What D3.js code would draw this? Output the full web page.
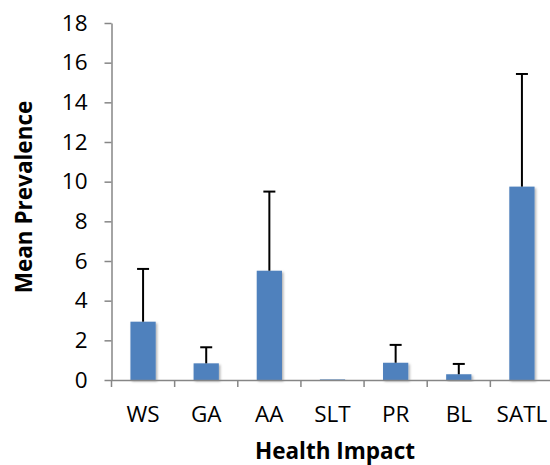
<!DOCTYPE html>
<html><head><meta charset="utf-8">
<script src="https://cdn.jsdelivr.net/npm/d3@7"></script>
<style>body{margin:0;background:#fff}svg{display:block}</style>
</head><body>
<script>
const categories = ["WS","GA","AA","SLT","PR","BL","SATL"];
const means = [2.94, 0.84, 5.51, 0.03, 0.87, 0.29, 9.75];
const errors = [2.66, 0.81, 3.99, 0, 0.90, 0.52, 5.68];
const yTicks = [0,2,4,6,8,10,12,14,16,18];
const xTitle = "Health Impact";
const yTitle = "Mean Prevalence";

const W = 550, H = 465;
const svg = d3.select("body").append("svg").attr("width", W).attr("height", H);
const font = "'Open Sans', sans-serif";

const x = d3.scaleBand().domain(categories).range([111.5, 553.5]).paddingInner(0.6).paddingOuter(0.3);
const xb = d3.scaleBand().domain(categories).range([111.5, 553.5]);
const y = d3.scaleLinear().domain([0,18]).range([380, 23]);

// shadow filter
const defs = svg.append("defs");
const f = defs.append("filter").attr("id","sh").attr("x","-20%").attr("y","-20%").attr("width","150%").attr("height","150%");
f.append("feDropShadow").attr("dx",1.5).attr("dy",1.5).attr("stdDeviation",1.2).attr("flood-color","#000").attr("flood-opacity",0.3);

// bars
svg.append("g").selectAll("rect").data(categories).join("rect")
  .attr("x", d => x(d)).attr("width", x.bandwidth())
  .attr("y", (d,i) => y(means[i])).attr("height", (d,i) => y(0) - y(means[i]))
  .attr("fill", "#4F81BD").attr("filter","url(#sh)");

// error bars
const eg = svg.append("g").attr("stroke","#000").attr("stroke-width",2);
categories.forEach((c,i) => {
  if (errors[i] <= 0) return;
  const cx = x(c) + x.bandwidth()/2;
  eg.append("line").attr("x1",cx).attr("x2",cx).attr("y1",y(means[i])).attr("y2",y(means[i]+errors[i]));
  eg.append("line").attr("x1",cx-6).attr("x2",cx+6).attr("y1",y(means[i]+errors[i])).attr("y2",y(means[i]+errors[i]));
});

// y axis
const ya = svg.append("g").attr("transform","translate(111.5,0)")
  .call(d3.axisLeft(y).tickValues(yTicks).tickSize(7).tickPadding(17).tickSizeOuter(0));
ya.select(".domain").attr("stroke","#868686").attr("stroke-width",1.5);
ya.selectAll(".tick line").attr("stroke","#868686").attr("stroke-width",1.5);
ya.selectAll("text").attr("font-family",font).attr("font-size",22.5).attr("fill","#000");

// x axis
const xa = svg.append("g").attr("transform","translate(0,380)")
  .call(d3.axisBottom(xb).tickSize(0).tickPadding(26.5).tickSizeOuter(0));
xa.select(".domain").attr("stroke","#868686").attr("stroke-width",1.5);
xa.selectAll("text").attr("font-family",font).attr("font-size",22.5).attr("fill","#000");
svg.append("g").selectAll("line").data(categories).join("line")
  .attr("x1", d => xb(d)).attr("x2", d => xb(d)).attr("y1",380).attr("y2",387)
  .attr("stroke","#868686").attr("stroke-width",1.5);

// titles
svg.append("text").attr("x",335).attr("y",458.5).attr("text-anchor","middle")
  .attr("font-family",font).attr("font-size",22.5).attr("font-weight","bold").text(xTitle);
svg.append("text").attr("transform","translate(32,197) rotate(-90)").attr("text-anchor","middle")
  .attr("font-family",font).attr("font-size",22.5).attr("font-weight","bold").text(yTitle);
</script>
</body></html>
